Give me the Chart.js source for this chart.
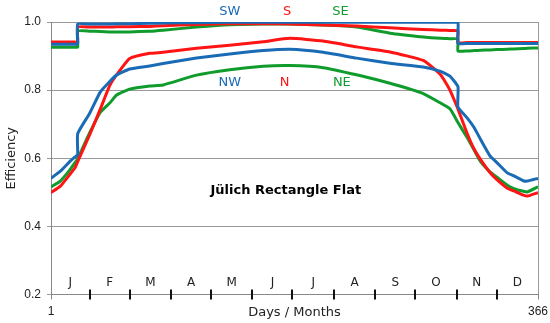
<!DOCTYPE html>
<html>
<head>
<meta charset="utf-8">
<script src="https://cdn.jsdelivr.net/npm/chart.js"></script>
<style>
  body { margin: 0; background: #fff; }
  canvas { display: block; }
</style>
</head>
<body>
<canvas id="grafico" width="550" height="323"></canvas>
<script>
// dia do ano (os dias repetidos marcam os saltos da curva)
const dias = [1, 8, 15, 19, 21, 21, 30, 38, 45, 50, 60, 75, 85, 110, 135, 160, 180, 205, 230, 255, 280, 293, 300, 306, 306, 313, 318, 323, 330, 335, 343, 348, 355, 358, 366]

const sw = [0.935, 0.935, 0.935, 0.935, 0.935, 0.994, 0.994, 0.994, 0.994, 0.995, 0.995, 0.996, 0.997, 0.998, 0.999, 0.999, 0.999, 0.999, 0.999, 0.999, 0.999, 0.999, 0.999, 0.999, 0.937, 0.937, 0.937, 0.937, 0.937, 0.937, 0.937, 0.937, 0.937, 0.937, 0.937]
const s = [0.941, 0.941, 0.941, 0.941, 0.941, 0.985, 0.985, 0.985, 0.985, 0.986, 0.986, 0.987, 0.989, 0.993, 0.995, 0.995, 0.994, 0.991, 0.988, 0.983, 0.978, 0.976, 0.975, 0.974, 0.939, 0.94, 0.94, 0.94, 0.94, 0.94, 0.94, 0.94, 0.94, 0.94, 0.94]
const se = [0.926, 0.926, 0.926, 0.926, 0.926, 0.973, 0.973, 0.972, 0.971, 0.971, 0.971, 0.973, 0.976, 0.985, 0.992, 0.994, 0.994, 0.991, 0.985, 0.967, 0.956, 0.952, 0.951, 0.95, 0.915, 0.915, 0.916, 0.917, 0.918, 0.919, 0.92, 0.921, 0.922, 0.923, 0.924]
const nw = [0.541, 0.562, 0.59, 0.604, 0.61, 0.672, 0.732, 0.795, 0.825, 0.844, 0.862, 0.871, 0.878, 0.894, 0.906, 0.916, 0.92, 0.911, 0.894, 0.879, 0.868, 0.855, 0.841, 0.81, 0.751, 0.718, 0.691, 0.655, 0.607, 0.588, 0.557, 0.548, 0.534, 0.533, 0.541]
const n = [0.499, 0.518, 0.552, 0.572, 0.59, 0.59, 0.669, 0.745, 0.813, 0.844, 0.893, 0.908, 0.911, 0.923, 0.932, 0.942, 0.952, 0.944, 0.927, 0.912, 0.887, 0.845, 0.8, 0.745, 0.745, 0.672, 0.628, 0.596, 0.558, 0.538, 0.512, 0.504, 0.492, 0.489, 0.499]
const ne = [0.516, 0.533, 0.565, 0.587, 0.598, 0.598, 0.675, 0.735, 0.762, 0.785, 0.803, 0.812, 0.815, 0.844, 0.86, 0.87, 0.872, 0.866, 0.845, 0.82, 0.79, 0.762, 0.745, 0.705, 0.705, 0.66, 0.625, 0.59, 0.56, 0.545, 0.521, 0.511, 0.503, 0.501, 0.516]

const meses = ['J', 'F', 'M', 'A', 'M', 'J', 'J', 'A', 'S', 'O', 'N', 'D']
const limitesMeses = [1, 30, 60, 91, 121, 152, 182, 213, 244, 274, 305, 335, 366]
const ticksY = [0.2, 0.4, 0.6, 0.8, 1.0]

const azul = '#1a6bb5'
const vermelho = '#ff1414'
const verde = '#109c2c'

// rotulos das series: [texto, dia, eficiencia, cor]
const rotulos = [
  ['SW', 135, 1.031, azul], ['S', 178, 1.031, vermelho], ['SE', 218, 1.031, verde],
  ['NW', 135, 0.821, azul], ['N', 176, 0.821, vermelho], ['NE', 219, 0.821, verde]
]
const titulo = 'Jülich Rectangle Flat'

function montaPontos(valores) {
  return valores.map((v, i) => ({ x: dias[i], y: v }))
}

function serie(valores, cor) {
  return {
    data: montaPontos(valores),
    borderColor: cor,
    borderWidth: 3,
    pointRadius: 0,
    tension: 0.15,
    fill: false
  }
}

const extras = {
  id: 'extras',
  afterDraw(chart) {
    const ctx = chart.ctx
    const escX = chart.scales.x
    const escY = chart.scales.y
    const baixo = chart.chartArea.bottom
    ctx.save()

    // marcas dos meses no eixo
    ctx.strokeStyle = '#111'
    ctx.lineWidth = 2
    limitesMeses.slice(1, -1).forEach(d => {
      const px = Math.round(escX.getPixelForValue(d))
      ctx.beginPath()
      ctx.moveTo(px, baixo - 5)
      ctx.lineTo(px, baixo + 5)
      ctx.stroke()
    })

    ctx.font = '12px "DejaVu Sans"'
    ctx.fillStyle = '#222'
    ctx.textAlign = 'center'
    ctx.textBaseline = 'middle'
    meses.forEach((m, i) => {
      const meio = (limitesMeses[i] + limitesMeses[i + 1]) / 2
      ctx.fillText(m, escX.getPixelForValue(meio), baixo - 12)
    })

    ctx.font = '13px "DejaVu Sans"'
    rotulos.forEach(r => {
      ctx.fillStyle = r[3]
      ctx.fillText(r[0], escX.getPixelForValue(r[1]), escY.getPixelForValue(r[2]))
    })

    ctx.font = 'bold 13px "DejaVu Sans"'
    ctx.fillStyle = '#000'
    ctx.fillText(titulo, escX.getPixelForValue(177), escY.getPixelForValue(0.506))
    ctx.restore()
  }
}

new Chart(document.getElementById('grafico'), {
  type: 'line',
  data: {
    datasets: [
      serie(sw, azul), serie(nw, azul),
      serie(s, vermelho), serie(n, vermelho),
      serie(se, verde), serie(ne, verde)
    ]
  },
  options: {
    responsive: false,
    animation: false,
    devicePixelRatio: 1,
    layout: { padding: { top: 22, right: 12, left: 0, bottom: 0 } },
    plugins: { legend: { display: false }, tooltip: { enabled: false } },
    scales: {
      x: {
        type: 'linear',
        min: 1,
        max: 366,
        afterBuildTicks: esc => { esc.ticks = [{ value: 1 }, { value: 366 }] },
        afterFit: esc => {
          esc.height = 28.5
          esc.paddingLeft = 0
          esc.paddingRight = 0
        },
        grid: { color: '#999', tickLength: 5, tickColor: '#888' },
        border: { color: '#888' },
        ticks: { color: '#222', font: { family: 'Liberation Sans', size: 12 }, padding: 5, maxRotation: 0 },
        title: { display: true, text: 'Days / Months', color: '#222', font: { family: 'DejaVu Sans', size: 13 }, padding: { top: 0, bottom: 3 } }
      },
      y: {
        min: 0.2,
        max: 1.0,
        afterBuildTicks: esc => { esc.ticks = ticksY.map(v => ({ value: v })) },
        afterFit: esc => { esc.width = 51 },
        grid: { color: '#999', tickLength: 4, tickColor: '#999' },
        border: { color: '#888' },
        ticks: { color: '#222', font: { family: 'Liberation Sans', size: 12 }, padding: 6, callback: v => v.toFixed(1) },
        title: { display: true, text: 'Efficiency', color: '#222', font: { family: 'DejaVu Sans', size: 13 }, padding: { top: 4, bottom: 0 } }
      }
    }
  },
  plugins: [extras]
})
</script>
</body>
</html>
